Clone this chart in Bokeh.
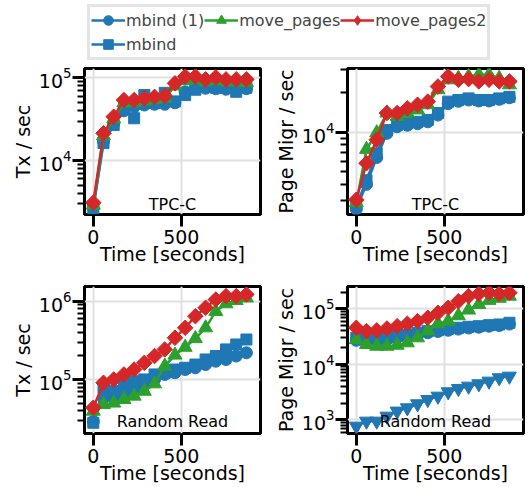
from bokeh.plotting import figure
from bokeh.layouts import column, row
from bokeh.models import Range1d, FixedTicker, Legend, LegendItem, Label, ColumnDataSource
from bokeh.embed import file_html
from bokeh.resources import INLINE

# ---------------- data ----------------
TIME = [0, 58, 116, 174, 232, 290, 348, 406, 464, 522, 580, 638, 696, 754, 812, 870]

# TPC-C, Tx / sec
TPCC_TX_MBIND1 = [2700, 17000, 28000, 40000, 45000, 47000, 48000, 48000, 50000, 68000, 75000, 75000, 74000, 73000, 72000, 74000]
TPCC_TX_MBIND = [2650, 16300, 27000, 43000, 32500, 62000, 50000, 66000, 52000, 62000, 72000, 78000, 76000, 76000, 68000, 76000]
TPCC_TX_MOVE = [2900, 20000, 32000, 50000, 51000, 53000, 55000, 57000, 80000, 93000, 95000, 90000, 93000, 90000, 90000, 88000]
TPCC_TX_MOVE2 = [3100, 21400, 34000, 54000, 54000, 56600, 59000, 60500, 86000, 104000, 104000, 96000, 101600, 96000, 96000, 96000]

# TPC-C, Page Migr / sec
TPCC_PM_MBIND1 = [2600, 4000, 6400, 9800, 11000, 11300, 11600, 12000, 13500, 16500, 17200, 17600, 17300, 17300, 17800, 18300]
TPCC_PM_MBIND = [2750, 4300, 6900, 10400, 11400, 11700, 12000, 12400, 14000, 17100, 17600, 18100, 17600, 17600, 18100, 18600]
TPCC_PM_MOVE = [2900, 7400, 9900, 14000, 13200, 14000, 14800, 16200, 21100, 25100, 25800, 26600, 27400, 27400, 25800, 23000]
TPCC_PM_MOVE2 = [3050, 5800, 8750, 14000, 14000, 15200, 16200, 17100, 22300, 26600, 25100, 25400, 24400, 25100, 24400, 24400]

# Random Read, Tx / sec
RR_TX_MBIND1 = [29000, 58000, 58000, 64000, 71000, 86000, 100000, 116000, 122000, 134000, 141000, 155000, 171000, 180000, 199000, 219000]
RR_TX_MBIND = [28000, 78000, 71000, 86000, 95000, 100000, 116000, 122000, 134000, 141000, 155000, 180000, 199000, 242000, 280000, 324000]
RR_TX_MOVE = [39400, 48000, 50000, 55600, 61300, 70800, 88000, 148000, 205000, 258000, 333000, 457000, 740000, 927000, 1020000, 1100000]
RR_TX_MOVE2 = [43500, 90700, 100000, 116000, 134000, 163000, 199000, 242000, 341000, 457000, 643000, 824000, 1050000, 1160000, 1160000, 1220000]

# Random Read, Page Migr / sec
RR_PM_MBIND1 = [27000, 24500, 26000, 28000, 30000, 32000, 34500, 37000, 39000, 41000, 43000, 45000, 46500, 48500, 50000, 53000]
RR_PM_MBIND = [30000, 26100, 28000, 30000, 32200, 34400, 37000, 39500, 41200, 43600, 45500, 47400, 48600, 50700, 52100, 56000]
RR_PM_MOVE = [28000, 22800, 21200, 21200, 22100, 24400, 30000, 40000, 54000, 60000, 75000, 95000, 120000, 142000, 155000, 169000]
RR_PM_MOVE2 = [45500, 39500, 40800, 44200, 48600, 53700, 59900, 68900, 84700, 104000, 137000, 169000, 186000, 194000, 186000, 194000]
RR_PM_MBIND2 = [767, 944, 944, 1160, 1430, 1640, 1940, 2320, 2660, 3190, 3660, 4030, 4450, 4960, 5710, 6100]

X_TICKS = [0, 500]
Y_MAJOR = [1e3, 1e4, 1e5, 1e6]
Y_MINOR = [m * 10.0 ** e for e in range(2, 7) for m in range(2, 10)]

X_LABEL = "Time [seconds]"
NOTES = ["TPC-C", "TPC-C", "Random Read", "Random Read"]
YLABELS = ["Tx / sec", "Page Migr / sec", "Tx / sec", "Page Migr / sec"]
LEGEND_ORDER = ["mbind (1)", "move_pages", "move_pages2", "mbind"]

# ---------------- style ----------------
BLUE, GREEN, RED = "#1f77b4", "#2ca02c", "#d62728"
STYLE = {
    "mbind (1)": dict(color=BLUE, marker="circle", size=12, angle=0.0, legend_marker="circle"),
    "mbind": dict(color=BLUE, marker="square", size=11, angle=0.0, legend_marker="square"),
    "move_pages": dict(color=GREEN, marker="triangle", size=14, angle=0.0, legend_marker="triangle"),
    "move_pages2": dict(color=RED, marker="square", size=11, angle=0.785398, legend_marker="diamond"),
    "mbind (2)": dict(color=BLUE, marker="inverted_triangle", size=14, angle=0.0, legend_marker="inverted_triangle"),
}
FONT = "DejaVu Sans"
XR = (-50, 950)


def draw_series(p, name, xs, ys):
    st = STYLE[name]
    src = ColumnDataSource(dict(x=xs, y=ys))
    p.line("x", "y", source=src, line_color=st["color"], line_width=2.5)
    p.scatter("x", "y", source=src, marker=st["marker"], size=st["size"], angle=st["angle"],
              fill_color=st["color"], line_color=st["color"], line_width=1)


def panel(series, yr, ylabel, note, note_y, w, h, bl, br, bt, bb):
    p = figure(width=w, height=h, x_range=Range1d(*XR), y_range=Range1d(*yr),
               y_axis_type="log", output_backend="svg", toolbar_location=None,
               min_border_left=bl, min_border_right=br, min_border_top=bt, min_border_bottom=bb)
    p.background_fill_color = "white"
    p.border_fill_color = "white"
    p.outline_line_color = "black"
    p.outline_line_width = 3
    p.xaxis.ticker = FixedTicker(ticks=X_TICKS, minor_ticks=[])
    p.yaxis.ticker = FixedTicker(ticks=Y_MAJOR, minor_ticks=Y_MINOR)
    for ax in (p.xaxis[0], p.yaxis[0]):
        ax.axis_line_color = None
        ax.major_tick_line_width = 3
        ax.major_tick_out = 12
        ax.major_tick_in = 0
        ax.minor_tick_line_width = 2
        ax.minor_tick_out = 7
        ax.minor_tick_in = 0
        ax.major_label_text_font = FONT
        ax.major_label_text_font_size = "19px"
        ax.major_label_text_color = "black"
        ax.axis_label_text_font = FONT
        ax.axis_label_text_font_size = "19px"
        ax.axis_label_text_font_style = "normal"
        ax.axis_label_text_color = "black"
    p.xaxis.major_label_standoff = 3
    p.yaxis.major_label_standoff = 1
    p.xaxis.axis_label = X_LABEL
    p.yaxis.axis_label = ylabel
    p.xaxis.axis_label_standoff = -4
    p.yaxis.axis_label_standoff = 2
    p.grid.grid_line_color = "#e0e0e0"
    p.grid.grid_line_width = 2
    for name, ys in series:
        draw_series(p, name, TIME, ys)
    fw = w - bl - br
    p.add_layout(Label(x=fw / 2, y=note_y, x_units="screen", y_units="screen", text=note,
                       text_align="center", text_baseline="alphabetic",
                       text_font=FONT, text_font_size="16px", text_color="black"))
    return p


f1 = panel([("mbind (1)", TPCC_TX_MBIND1), ("mbind", TPCC_TX_MBIND),
            ("move_pages", TPCC_TX_MOVE), ("move_pages2", TPCC_TX_MOVE2)],
           (2230, 1.3e5), YLABELS[0], NOTES[0], 10, 268, 214, 84, 8, 8, 60)
f2 = panel([("mbind (1)", TPCC_PM_MBIND1), ("mbind", TPCC_PM_MBIND),
            ("move_pages", TPCC_PM_MOVE), ("move_pages2", TPCC_PM_MOVE2)],
           (2356, 30600), YLABELS[1], NOTES[1], 10, 261, 214, 79, 6, 8, 60)
f3 = panel([("mbind (1)", RR_TX_MBIND1), ("mbind", RR_TX_MBIND),
            ("move_pages", RR_TX_MOVE), ("move_pages2", RR_TX_MOVE2)],
           (20400, 1.54e6), YLABELS[2], NOTES[2], 12, 268, 213, 84, 8, 12, 54)
f4 = panel([("mbind (2)", RR_PM_MBIND2), ("mbind (1)", RR_PM_MBIND1), ("mbind", RR_PM_MBIND),
            ("move_pages", RR_PM_MOVE), ("move_pages2", RR_PM_MOVE2)],
           (566, 2.52e5), YLABELS[3], NOTES[3], 12, 261, 213, 79, 6, 12, 54)

# ---------------- legend figure ----------------
lg = figure(width=529, height=60, x_range=Range1d(0, 1), y_range=Range1d(0, 1),
            output_backend="svg", toolbar_location=None,
            min_border_left=83, min_border_right=0, min_border_top=0, min_border_bottom=0)
lg.xaxis.visible = False
lg.yaxis.visible = False
lg.grid.visible = False
lg.outline_line_color = None
items = []
for name in LEGEND_ORDER:
    st = STYLE[name]
    src = ColumnDataSource(dict(x=[float("nan")], y=[float("nan")]))
    r1 = lg.line("x", "y", source=src, line_color=st["color"], line_width=2.5)
    r2 = lg.scatter("x", "y", source=src, marker=st["legend_marker"], size=st["size"],
                    fill_color=st["color"], line_color=st["color"])
    items.append(LegendItem(label=name, renderers=[r1, r2]))
legend = Legend(items=items, location="top_left", orientation="horizontal", ncols=3,
                label_text_font=FONT, label_text_font_size="16px",
                glyph_width=34, glyph_height=24, label_height=24, label_standoff=1,
                spacing=0, padding=1, margin=4,
                border_line_color="#cccccc", border_line_width=3,
                background_fill_color="white", background_fill_alpha=1)
lg.add_layout(legend)

layout = column(lg, row(f1, f2), row(f3, f4))
open("out.html", "w").write(file_html(layout, INLINE))
